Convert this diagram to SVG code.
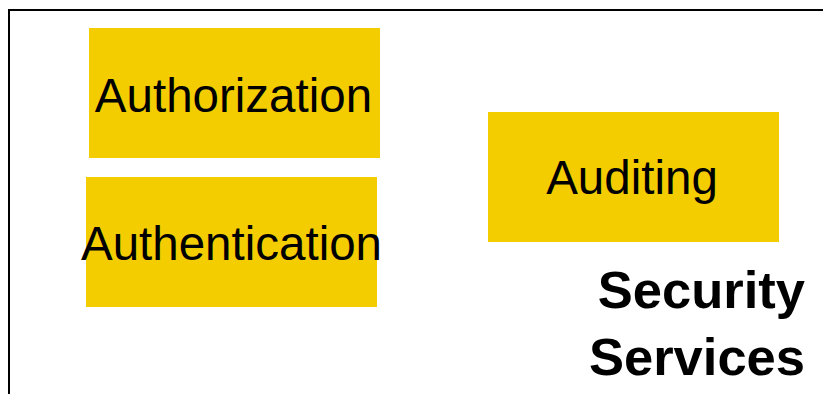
<svg xmlns="http://www.w3.org/2000/svg" width="823" height="394" viewBox="0 0 823 394">
<style>
.box{fill:#f3cd00}
.lbl{font-family:"Liberation Sans",Arial,sans-serif;font-size:47.5px;fill:#000;text-anchor:middle}
.title{font-family:"Liberation Sans",Arial,sans-serif;font-size:52.5px;font-weight:bold;fill:#000;text-anchor:end}
</style>
<rect width="823" height="394" fill="#fff"/>
<path d="M9,394 V10 H823" fill="none" stroke="#000" stroke-width="2"/>
<g id="connectors"/>
<g id="authorization">
<rect class="box" x="89" y="28" width="291" height="130"/>
<text class="lbl" x="233.5" y="112">Authorization</text>
</g>
<g id="authentication">
<rect class="box" x="86" y="177" width="291" height="130"/>
<text class="lbl" x="231.5" y="260">Authentication</text>
</g>
<g id="auditing">
<rect class="box" x="488" y="112" width="291" height="130"/>
<text class="lbl" x="632" y="194">Auditing</text>
</g>
<g id="title">
<text class="title" x="805" y="308">Security</text>
<text class="title" x="805" y="375">Services</text>
</g>
</svg>
